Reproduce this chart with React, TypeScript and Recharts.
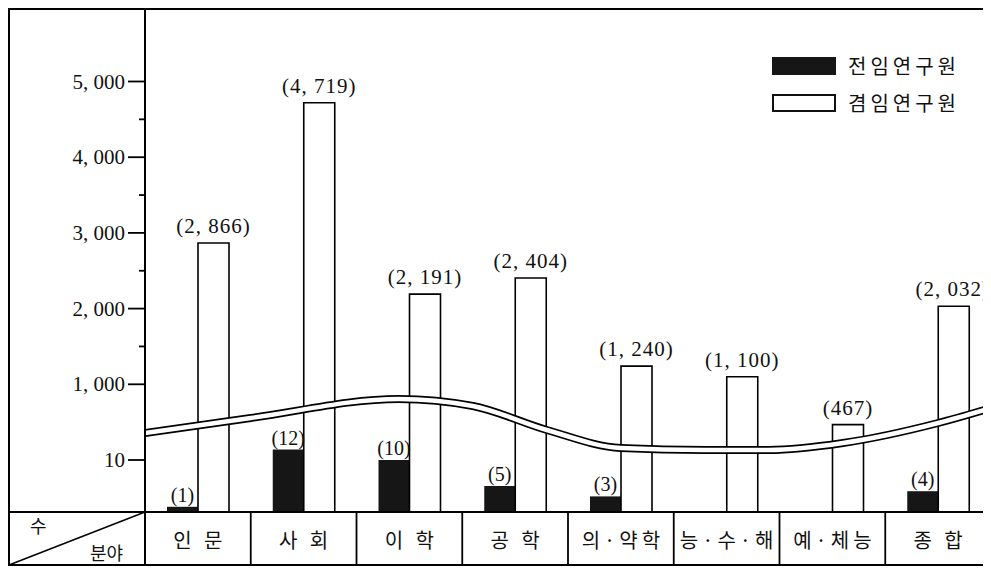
import { ComposedChart, Bar, Line, XAxis, YAxis, Legend, LabelList } from 'recharts';

const categories = ['인 문', '사 회', '이 학', '공 학', '의·약학', '능·수·해', '예·체능', '종 합'];
const fullTimeCounts = [1, 12, 10, 5, 3, 0, 0, 4];
const partTimeCounts = [2866, 4719, 2191, 2404, 1240, 1100, 467, 2032];

const lowerTicks = [10];
const upperTicks = [1000, 2000, 3000, 4000, 5000];
const upperMinorTicks = [1500, 2500, 3500, 4500];

// axis break drawn as a double wavy line (x in category units, y in axis units)
const breakCurve = [
  { x: 0, y: 79 },
  { x: 1, y: 94 },
  { x: 2.4, y: 113 },
  { x: 3.1, y: 106 },
  { x: 3.8, y: 82 },
  { x: 4.5, y: 64 },
  { x: 5.3, y: 62 },
  { x: 5.9, y: 62 },
  { x: 6.6, y: 69 },
  { x: 7.5, y: 89 },
  { x: 8, y: 104 },
];

// broken axis: small counts below the break, large counts above it
const LOWER_UNIT = 5.2;
const BREAK_BASE = 52;
const UPPER_UNIT = 0.0757;
const lowerY = (v: number) => v * LOWER_UNIT;
const upperY = (v: number) => BREAK_BASE + v * UPPER_UNIT;

const fmt = (v: number) => v.toLocaleString('en-US').replace(/,/g, ', ');

const data = categories.map((name, i) => ({
  name,
  full: fullTimeCounts[i],
  part: partTimeCounts[i],
  fullY: lowerY(fullTimeCounts[i]),
  partY: upperY(partTimeCounts[i]),
}));

const tickDefs = [
  ...lowerTicks.map(v => ({ pos: lowerY(v), label: String(v), major: true })),
  ...upperTicks.map(v => ({ pos: upperY(v), label: fmt(v), major: true })),
  ...upperMinorTicks.map(v => ({ pos: upperY(v), label: '', major: false })),
];

const SERIF = '"Liberation Serif", "DejaVu Serif", serif';
const KOREAN = '"Noto Sans CJK KR", sans-serif';
const CHART_W = 983;

const YTick = ({ x, y, payload }: any) => {
  const def = tickDefs.find(t => Math.abs(t.pos - payload.value) < 0.01);
  if (!def) return null;
  return (
    <g>
      <line x1={x - (def.major ? 17 : 6)} x2={x} y1={y} y2={y} stroke="#000" strokeWidth={1.8} />
      {def.label && (
        <text x={x - 20} y={y} textAnchor="end" dominantBaseline="central" fontFamily={SERIF} fontSize={21} fill="#111">
          {def.label}
        </text>
      )}
    </g>
  );
};

const XTick = ({ x, y, payload }: any) => {
  const half = payload.offset || 52.9;
  return (
    <g>
      <line x1={x + half} x2={x + half} y1={y} y2={y + 54} stroke="#000" strokeWidth={1.8} />
      <text x={x + 2} y={y + 27} textAnchor="middle" dominantBaseline="central" fontFamily={KOREAN} fontSize={20} letterSpacing={4} fill="#111">
        {payload.value}
      </text>
    </g>
  );
};

const BarLabel = ({ x, y, width, value, gap, size, spacing, format }: any) => {
  if (!value) return null;
  const cx = x + width / 2;
  const nearEdge = cx + 40 > CHART_W;
  return (
    <text
      x={nearEdge ? CHART_W - 1 : cx}
      y={y - gap}
      textAnchor={nearEdge ? 'end' : 'middle'}
      fontFamily={SERIF}
      fontSize={size}
      letterSpacing={spacing}
      fill="#111"
    >
      {format(value)}
    </text>
  );
};

const LegendBox = () => (
  <div style={{ fontFamily: KOREAN, fontSize: 20, color: '#111', lineHeight: '24px' }}>
    <div style={{ display: 'flex', alignItems: 'center', marginBottom: 13 }}>
      <span style={{ display: 'inline-block', width: 64, height: 18, background: '#161616', marginRight: 12 }} />
      <span style={{ letterSpacing: 4 }}>전임연구원</span>
    </div>
    <div style={{ display: 'flex', alignItems: 'center' }}>
      <span style={{ display: 'inline-block', width: 60, height: 14, border: '2px solid #111', marginRight: 12 }} />
      <span style={{ letterSpacing: 4 }}>겸임연구원</span>
    </div>
  </div>
);

export default function App() {
  return (
    <div style={{ position: 'relative', width: CHART_W, height: 558, background: '#fff' }}>
      <ComposedChart width={CHART_W} height={558} data={data} margin={{ top: 0, right: 0, bottom: 0, left: 0 }} barSize={31} barGap={0}>
        <XAxis dataKey="name" height={54} tick={<XTick />} tickLine={false} tickSize={0} tickMargin={0} axisLine={{ stroke: '#000', strokeWidth: 2 }} interval={0} />
        <XAxis xAxisId="brk" type="number" dataKey="x" domain={[0, 8]} allowDataOverflow hide />
        <YAxis
          width={137}
          type="number"
          domain={[0, 504]}
          allowDataOverflow
          ticks={tickDefs.map(t => t.pos)}
          interval={0}
          tick={<YTick />}
          tickLine={false}
          tickSize={0}
          tickMargin={0}
          axisLine={{ stroke: '#000', strokeWidth: 2 }}
        />
        <Legend
          layout="horizontal"
          verticalAlign="middle"
          align="center"
          content={<LegendBox />}
          wrapperStyle={{ top: 46, left: 764, width: 'auto', height: 'auto' }}
        />
        <Bar dataKey="fullY" fill="#161616" isAnimationActive={false}>
          <LabelList dataKey="full" content={<BarLabel gap={5} size={20} spacing={0} format={(v: number) => `(${v})`} />} />
        </Bar>
        <Bar dataKey="partY" fill="#fff" stroke="#000" strokeWidth={1.6} isAnimationActive={false}>
          <LabelList dataKey="part" content={<BarLabel gap={10} size={21} spacing={1} format={(v: number) => `(${fmt(v)})`} />} />
        </Bar>
        <Line xAxisId="brk" data={breakCurve} dataKey="y" type="monotone" stroke="#000" strokeWidth={8} dot={false} activeDot={false} isAnimationActive={false} />
        <Line xAxisId="brk" data={breakCurve} dataKey="y" type="monotone" stroke="#fff" strokeWidth={4.5} dot={false} activeDot={false} isAnimationActive={false} />
      </ComposedChart>
      <svg width={CHART_W} height={558} style={{ position: 'absolute', left: 0, top: 0, pointerEvents: 'none' }}>
        <rect x={1} y={1} width={981} height={556} fill="none" stroke="#000" strokeWidth={2} />
        <line x1={0} x2={137} y1={504} y2={504} stroke="#000" strokeWidth={2} />
        <line x1={137} x2={137} y1={504} y2={558} stroke="#000" strokeWidth={2} />
        <line x1={1} y1={557} x2={137} y2={504} stroke="#000" strokeWidth={1.5} />
        <text x={22} y={517} fontFamily={KOREAN} fontSize={18} fill="#111" dominantBaseline="central">수</text>
        <text x={82} y={544} fontFamily={KOREAN} fontSize={18} fill="#111" dominantBaseline="central">분야</text>
      </svg>
    </div>
  );
}
